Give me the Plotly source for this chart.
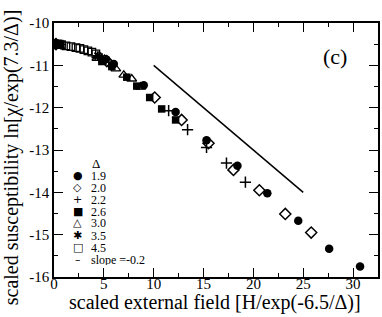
import plotly.graph_objects as go

# ---- data ----
x_19 = [0.1, 6.0, 9.0, 12.2, 15.3, 18.4, 21.4, 24.5, 27.6, 30.7]
y_19 = [-10.50, -10.97, -11.47, -12.10, -12.77, -13.37, -14.02, -14.67, -15.33, -15.75]

x_20 = [0.2, 5.3, 10.1, 12.8, 15.5, 18.0, 20.6, 23.2, 25.8]
y_20 = [-10.50, -10.90, -11.76, -12.29, -12.84, -13.47, -13.95, -14.51, -14.95]

x_22 = [0.15, 5.5, 11.5, 13.4, 15.3, 17.3, 19.2]
y_22 = [-10.50, -10.93, -12.07, -12.52, -12.94, -13.31, -13.76]

x_26 = [0.05, 0.3, 0.6, 4.8, 5.8, 7.3, 8.3, 9.6, 10.8, 12.2]
y_26 = [-10.50, -10.50, -10.51, -10.91, -11.03, -11.28, -11.49, -11.76, -12.03, -12.29]

x_30 = [0.1, 0.5, 4.3, 6.2, 7.0, 7.8, 8.7]
y_30 = [-10.50, -10.51, -10.83, -11.08, -11.23, -11.32, -11.51]

x_35 = [0.05, 0.35, 0.7, 4.4, 4.8, 5.2]
y_35 = [-10.50, -10.50, -10.51, -10.78, -10.83, -10.87]

x_45 = [0.0, 0.25, 0.5, 0.75, 1.2, 1.7, 2.2, 2.6, 3.0, 3.4, 3.8, 4.2]
y_45 = [-10.50, -10.50, -10.50, -10.51, -10.54, -10.56, -10.58, -10.60, -10.63, -10.66, -10.69, -10.73]

slope_x = [10, 25]
slope_y = [-11.0, -14.0]

delta_labels = ["1.9", "2.0", "2.2", "2.6", "3.0", "3.5", "4.5", "slope =-0.2"]
legend_glyphs = ["●", "◇", "+", "■", "△", "✱", "□", "–"]

x_tickvals = [0, 5, 10, 15, 20, 25, 30]
x_ticktext = ["0", "5", "10", "15", "20", "25", "30"]
y_tickvals = [-16, -15, -14, -13, -12, -11, -10]
y_ticktext = ["-16", "-15", "-14", "-13", "-12", "-11", "-10"]

SERIF = "Liberation Serif"
W, H = 382, 317
ML, MR, MT, MB = 54, 2, 23, 40
PW, PH = W - ML - MR, H - MT - MB


def px(xp):
    return (xp - ML) / PW


def py(yp):
    return (H - MB - yp) / PH


fig = go.Figure()

series = [
    (x_19, y_19, dict(symbol="circle", size=8.5, color="black")),
    (x_20, y_20, dict(symbol="diamond-open", size=8.5, color="black", line=dict(width=1.5, color="black"))),
    (x_22, y_22, dict(symbol="cross-thin-open", size=8, color="black", line=dict(width=1.5, color="black"))),
    (x_26, y_26, dict(symbol="square", size=7.5, color="black")),
    (x_30, y_30, dict(symbol="triangle-up-open", size=8.5, color="black", line=dict(width=1.3, color="black"))),
    (x_35, y_35, dict(symbol="asterisk-open", size=8, color="black", line=dict(width=2, color="black"))),
    (x_45, y_45, dict(symbol="square-open", size=7.5, color="black", line=dict(width=1.3, color="black"))),
]
for (xs, ys, mk), lab in zip(series, delta_labels):
    fig.add_trace(go.Scatter(x=xs, y=ys, mode="markers", marker=mk, name=lab, showlegend=False))

fig.add_trace(go.Scatter(x=slope_x, y=slope_y, mode="lines", line=dict(color="black", width=1.5),
                         name=delta_labels[-1], showlegend=False))

axis_common = dict(
    showline=True, linecolor="black", linewidth=1.5, mirror="allticks",
    ticks="inside", ticklen=9, tickwidth=1.3, tickcolor="black",
    showgrid=False, zeroline=False,
    tickfont=dict(family=SERIF, size=15, color="black"),
)
fig.update_xaxes(range=[0, 32.5], tickvals=x_tickvals, ticktext=x_ticktext, ticklabelstandoff=-8,
                 minor=dict(dtick=2.5, tick0=0, ticks="inside", ticklen=4, tickwidth=1.3, tickcolor="black"),
                 **axis_common)
fig.update_yaxes(range=[-16, -10], tickvals=y_tickvals, ticktext=y_ticktext,
                 minor=dict(dtick=0.5, tick0=-16, ticks="inside", ticklen=4, tickwidth=1.3, tickcolor="black"),
                 **axis_common)

ann = []
# axis titles
ann.append(dict(text="scaled external field [H/exp(-6.5/Δ)]", xref="paper", yref="paper",
                x=px(216), y=py(302), xanchor="center", yanchor="middle", showarrow=False,
                font=dict(family=SERIF, size=20, color="black")))
ann.append(dict(text="scaled susceptibility ln[χ/exp(7.3/Δ)]", xref="paper", yref="paper",
                x=px(11), y=py(157), xanchor="center", yanchor="middle", textangle=-90, showarrow=False,
                font=dict(family=SERIF, size=20, color="black")))
# panel label
ann.append(dict(text="(c)", xref="x", yref="y", x=28.2, y=-10.78, showarrow=False,
                font=dict(family=SERIF, size=22, color="black")))
# legend (compact rows, as in the reference)
ann.append(dict(text="Δ", xref="paper", yref="paper", x=px(96), y=py(163), showarrow=False,
                xanchor="center", yanchor="middle", height=11,
                font=dict(family=SERIF, size=13, color="black")))
for i, (g, lab) in enumerate(zip(legend_glyphs, delta_labels)):
    yy = 175 + 12 * i
    ann.append(dict(text=g, xref="paper", yref="paper", x=px(78), y=py(yy), showarrow=False,
                    xanchor="center", yanchor="middle", height=11,
                    font=dict(family="DejaVu Sans", size=11, color="black")))
    ann.append(dict(text=lab, xref="paper", yref="paper", x=px(89), y=py(yy), showarrow=False,
                    xanchor="left", yanchor="middle", height=11,
                    font=dict(family=SERIF, size=12, color="black")))

fig.update_layout(
    width=W, height=H, margin=dict(l=ML, r=MR, t=MT, b=MB, pad=0),
    paper_bgcolor="white", plot_bgcolor="white",
    annotations=ann, showlegend=False,
)

fig.write_html("out.html", config={"displayModeBar": False},
               post_script="document.body.style.margin='0';document.body.style.overflow='hidden';")
